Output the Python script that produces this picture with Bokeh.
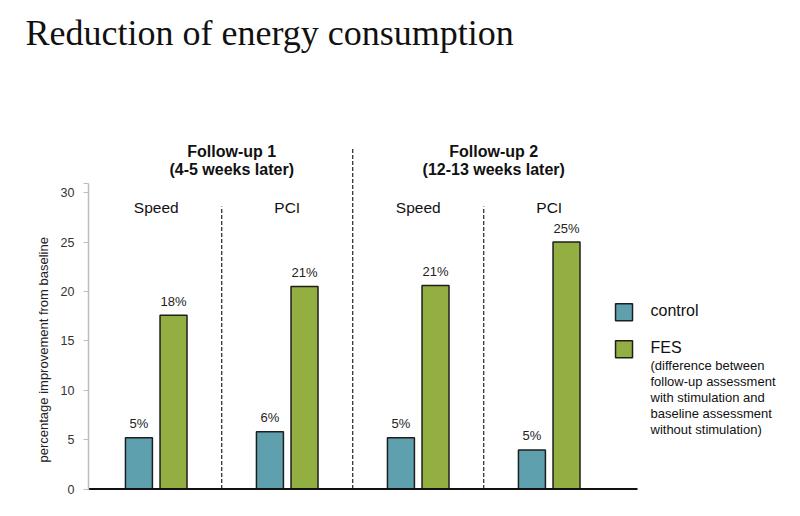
from bokeh.plotting import figure
from bokeh.models import ColumnDataSource, Range1d, FixedTicker, Title
from bokeh.core.properties import value
from bokeh.embed import file_html
from bokeh.resources import INLINE

# ---- data ----
followups = ["Follow-up 1", "Follow-up 2"]
followup_notes = ["(4-5 weeks later)", "(12-13 weeks later)"]
measures = ["Speed", "PCI", "Speed", "PCI"]
control = [5.2, 5.8, 5.2, 3.95]
fes = [17.6, 20.5, 20.6, 25.0]
control_labels = ["5%", "6%", "5%", "5%"]
fes_labels = ["18%", "21%", "21%", "25%"]
y_ticks = [0, 5, 10, 15, 20, 25, 30]
legend_names = ["control", "FES"]
fes_note = ["(difference between", "follow-up assessment", "with stimulation and",
            "baseline assessment", "without stimulation)"]

TEAL = "#5fa0af"
GREEN = "#93ae41"
EDGE = "#1e1e1e"
SANS = "Liberation Sans"

# ---- layout constants ----
px_per_x = 131.0          # pixels per group unit
px_per_y = 9.88           # pixels per percentage point
x_start = -0.517
frame_w = 704
top_border = 61
bottom_border = 18
fig_h = 508
frame_h = fig_h - top_border - bottom_border
y_start = -0.15
dodge = 0.132
bar_w = 0.206

p = figure(width=792, height=fig_h, output_backend="svg", toolbar_location=None,
           x_range=Range1d(x_start, x_start + frame_w / px_per_x),
           y_range=Range1d(y_start, y_start + frame_h / px_per_y),
           x_axis_location=None,
           title="Reduction of energy consumption",
           min_border_left=88, min_border_right=0,
           min_border_top=top_border, min_border_bottom=bottom_border)
p.outline_line_color = None
p.grid.visible = False
p.background_fill_color = "white"
p.border_fill_color = "white"

p.title.text_font = "Liberation Serif"
p.title.text_font_size = "36px"
p.title.text_font_style = "normal"
p.title.text_color = "#111111"
p.title.align = "left"
p.title.offset = -63
p.title.standoff = 18

yax = p.yaxis[0]
yax.ticker = FixedTicker(ticks=y_ticks, minor_ticks=[30.9])
yax.bounds = (0, 30.9)
yax.axis_line_color = "#bdbdbd"
yax.axis_line_width = 1.5
yax.major_tick_line_color = "#bdbdbd"
yax.minor_tick_line_color = "#bdbdbd"
yax.major_tick_out = 5
yax.major_tick_in = 0
yax.minor_tick_out = 5
yax.minor_tick_in = 0
yax.major_label_standoff = 9
yax.major_label_text_font = SANS
yax.major_label_text_font_size = "12.5px"
yax.major_label_text_color = "#333333"

# y-axis title as a side title, anchored near the bottom of the frame
p.add_layout(Title(text="percentage improvement from baseline", align="left",
                   offset=28, standoff=13, text_font=SANS, text_font_size="13px",
                   text_font_style="normal", text_color="#222222"), "left")

n = len(measures)
idx = list(range(n))
src = ColumnDataSource(dict(
    xc=[i - dodge for i in idx], xf=[i + dodge for i in idx],
    control=control, fes=fes, cl=control_labels, fl=fes_labels,
    gx=idx, measure=measures))

# dividers
div_x = [i + 0.5 for i in range(n - 1)]
div_top = [28.6 if (i + 1) % 2 else 34.5 for i in range(n - 1)]
p.segment(x0=div_x, y0=[0] * len(div_x), x1=div_x, y1=div_top,
          line_color="#222222", line_width=1.2, line_dash="4 2")

# bars
p.vbar(x="xc", top="control", bottom=0, width=bar_w, source=src,
       fill_color=TEAL, line_color=EDGE, line_width=1.5)
p.vbar(x="xf", top="fes", bottom=0, width=bar_w, source=src,
       fill_color=GREEN, line_color=EDGE, line_width=1.5)

# baseline
p.segment(x0=[x_start], y0=[0], x1=[n - 0.326], y1=[0], line_color="#111111", line_width=2)

# value labels
for xcol, ycol, tcol in (("xc", "control", "cl"), ("xf", "fes", "fl")):
    p.text(x=xcol, y=ycol, text=tcol, source=src, y_offset=-14,
           text_align="center", text_baseline="middle",
           text_font=value(SANS), text_font_size="13px", text_color="#222222")

# measure headers
p.text(x="gx", y=28.5, text="measure", source=src, text_align="center",
       text_baseline="middle", text_font=value(SANS), text_font_size="15.5px",
       text_color="#111111")

# follow-up headers
hx = [2 * k + 0.5 for k in range(len(followups))]
p.text(x=hx, y=[34.2] * len(hx), text=followups, x_offset=10, text_align="center",
       text_baseline="middle", text_font=value(SANS), text_font_size="16px",
       text_font_style="bold", text_color="#111111")
p.text(x=hx, y=[34.2] * len(hx), text=followup_notes, x_offset=10, y_offset=18.6,
       text_align="center", text_baseline="middle", text_font=value(SANS),
       text_font_size="16px", text_font_style="bold", text_color="#111111")

# legend
leg_sq_x = 3.571
leg_tx = 3.773
leg_y = [17.9, 14.15]
p.rect(x=[leg_sq_x] * 2, y=leg_y, width=17, height=17, width_units="screen",
       height_units="screen", fill_color=[TEAL, GREEN], line_color=EDGE, line_width=1.5)
p.text(x=[leg_tx] * 2, y=[18.05, 14.33], text=legend_names, text_align="left",
       text_baseline="middle", text_font=value(SANS), text_font_size="16px",
       text_color="#111111")
note_src = ColumnDataSource(dict(
    x=[leg_tx] * len(fes_note), y=[14.33] * len(fes_note), t=fes_note,
    off=[18.3 + 15.9 * i for i in range(len(fes_note))]))
p.text(x="x", y="y", text="t", y_offset="off", source=note_src, text_align="left",
       text_baseline="middle", text_font=value(SANS), text_font_size="13px",
       text_color="#111111")

open("out.html", "w").write(file_html(p, INLINE))
